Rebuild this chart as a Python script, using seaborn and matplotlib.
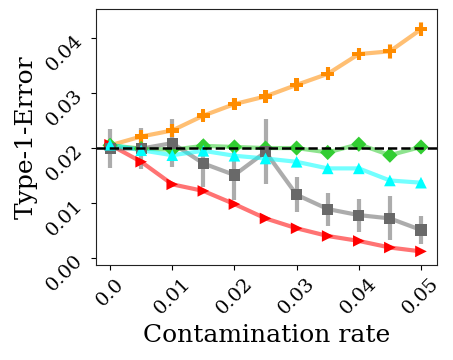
"""
plot.py
Type-1 error against contamination rate for five tests, with the
nominal level 0.02 drawn as a dashed line. Saves out.png.
"""

import numpy as np
import pandas as pd
import matplotlib
matplotlib.use("Agg")
import matplotlib.pyplot as plt
import seaborn as sns

# ----------------------------------------------------------------------
# Data
# ----------------------------------------------------------------------
contamination = [0.0, 0.005, 0.01, 0.015, 0.02, 0.025, 0.03, 0.035, 0.04, 0.045, 0.05]

orange_mean = [0.0205, 0.0221, 0.0232, 0.0259, 0.0280, 0.0294, 0.0315, 0.0335, 0.0371, 0.0376, 0.0416]
orange_err = [0.0010, 0.0010, 0.0012, 0.0010, 0.0011, 0.0011, 0.0011, 0.0012, 0.0011, 0.0014, 0.0013]

green_mean = [0.0205, 0.0199, 0.0197, 0.0204, 0.0202, 0.0200, 0.0200, 0.0192, 0.0207, 0.0187, 0.0202]
green_err = [0.0004, 0.0004, 0.0004, 0.0004, 0.0004, 0.0004, 0.0004, 0.0004, 0.0004, 0.0004, 0.0004]

gray_mean = [0.0199, 0.0199, 0.0209, 0.0172, 0.0151, 0.0193, 0.0115, 0.0089, 0.0078, 0.0072, 0.0051]
gray_err = [0.0035, 0.0037, 0.0043, 0.0042, 0.0045, 0.0059, 0.0032, 0.0030, 0.0030, 0.0040, 0.0026]

cyan_mean = [0.0206, 0.0196, 0.0187, 0.0195, 0.0186, 0.0181, 0.0175, 0.0163, 0.0163, 0.0141, 0.0137]
cyan_err = [0.0004, 0.0004, 0.0005, 0.0005, 0.0005, 0.0005, 0.0005, 0.0005, 0.0005, 0.0005, 0.0005]

red_mean = [0.0206, 0.0175, 0.0134, 0.0122, 0.0098, 0.0072, 0.0054, 0.0040, 0.0031, 0.0019, 0.0012]
red_err = [0.0003, 0.0003, 0.0003, 0.0003, 0.0003, 0.0003, 0.0003, 0.0003, 0.0003, 0.0003, 0.0003]

nominal_level = 0.02
x_ticks = [0.0, 0.01, 0.02, 0.03, 0.04, 0.05]
x_tick_labels = ["0.0", "0.01", "0.02", "0.03", "0.04", "0.05"]
y_ticks = [0.0, 0.01, 0.02, 0.03, 0.04]
y_tick_labels = ["0.00", "0.01", "0.02", "0.03", "0.04"]

# drawing order matters for overlaps: (name, mean, err, colour, marker, size)
SERIES = [
    ("orange", orange_mean, orange_err, "darkorange", "P", 85),
    ("green", green_mean, green_err, "limegreen", "D", 60),
    ("red", red_mean, red_err, "red", ">", 70),
    ("gray", gray_mean, gray_err, "dimgray", "s", 64),
    ("cyan", cyan_mean, cyan_err, "cyan", "^", 70),
]

# ----------------------------------------------------------------------
# Plot
# ----------------------------------------------------------------------
sns.set_style("ticks")
plt.rcParams["font.family"] = ["DejaVu Serif"]
plt.rcParams["text.color"] = "black"
plt.rcParams["axes.labelcolor"] = "black"
plt.rcParams["xtick.color"] = "black"
plt.rcParams["ytick.color"] = "black"

fig = plt.figure(figsize=(4.53, 3.6), dpi=100)
ax = fig.add_axes([0.212, 0.264, 0.753, 0.711])

for name, mean, err, color, marker, size in SERIES:
    df = pd.DataFrame({"x": contamination, "y": mean})
    ax.errorbar(contamination, mean, yerr=err, fmt="none", ecolor=color,
                elinewidth=3, alpha=0.55, capsize=0)
    sns.lineplot(data=df, x="x", y="y", color=color, alpha=0.55,
                 linewidth=3, ax=ax)
    sns.scatterplot(data=df, x="x", y="y", color=color, marker=marker,
                    s=size, edgecolor="none", ax=ax, zorder=3)

ax.axhline(nominal_level, color="black", linestyle="--", linewidth=1.8, zorder=5)

ax.set_xlim(-0.00226, 0.0526)
ax.set_ylim(-0.00127, 0.0453)
ax.set_xticks(x_ticks)
ax.set_xticklabels(x_tick_labels, rotation=45, fontsize=14)
ax.set_yticks(y_ticks)
ax.set_yticklabels(y_tick_labels, rotation=45, fontsize=14)
ax.set_xlabel("Contamination rate", fontsize=18)
ax.set_ylabel("Type-1-Error", fontsize=18)
for spine in ax.spines.values():
    spine.set_visible(True)
    spine.set_color("#222222")

fig.savefig("out.png", dpi=100)
